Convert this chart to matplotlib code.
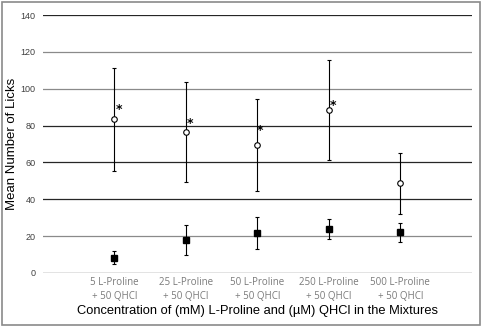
import matplotlib.pyplot as plt
from matplotlib.patches import Rectangle

# values
labels = ["5 L-Proline\n+ 50 QHCl", "25 L-Proline\n+ 50 QHCl", "50 L-Proline\n+ 50 QHCl",
          "250 L-Proline\n+ 50 QHCl", "500 L-Proline\n+ 50 QHCl"]
mixture_mean = [83.5, 76.5, 69.4, 88.5, 48.6]
mixture_err = [28.0, 27.0, 25.0, 27.0, 16.8]
water_mean = [8.3, 18.0, 21.7, 24.0, 22.0]
water_err = [3.6, 8.2, 8.7, 5.5, 5.2]
star_y = [89.0, 81.0, 77.5, 91.0]
star_dx = [0.06, 0.06, 0.03, 0.06]

x = list(range(1, len(labels) + 1))

fig = plt.figure(figsize=(4.83, 3.28), dpi=100)
ax = fig.add_axes([0.089, 0.1677, 0.888, 0.7863])

grid_col = ["#262626", "#8a8a8a", "#262626", "#262626", "#262626", "#8a8a8a", "#8a8a8a", "#262626"]
for v, c in zip(range(0, 141, 20), grid_col):
    ax.axhline(v, color=c, lw=0.9, zorder=0)

ax.errorbar(x, mixture_mean, yerr=mixture_err, fmt="o", ms=4, mfc="white", mec="black",
            mew=0.8, ecolor="black", elinewidth=0.8, capsize=1.5, capthick=0.8, zorder=3)
ax.errorbar(x, water_mean, yerr=water_err, fmt="s", ms=4.2, mfc="black", mec="black",
            ecolor="black", elinewidth=0.8, capsize=1.5, capthick=0.8, zorder=3)

for xi, yi, dx in zip(x, star_y, star_dx):
    ax.text(xi + dx, yi, "*", fontsize=9, fontweight="bold", ha="center", va="center",
            family="DejaVu Sans")

ax.set_xlim(0, 6)
ax.set_ylim(0, 140)
ax.set_yticks(range(0, 141, 20))
ax.set_xticks(x)
ax.set_xticklabels(labels, fontsize=7, color="#7a7a7a", family="Open Sans", linespacing=1.35)
ax.tick_params(axis="both", length=0)
ax.tick_params(axis="y", labelsize=6.5, labelcolor="#404040", pad=5.5)
ax.tick_params(axis="x", pad=3)
for lab in ax.get_yticklabels():
    lab.set_family("Liberation Sans")
for s in ax.spines.values():
    s.set_visible(False)

ax.set_ylabel("Mean Number of Licks", fontsize=9.5, family="Liberation Sans")
ax.yaxis.set_label_coords(-0.058, 0.5)
ax.set_xlabel("Concentration of (mM) L-Proline and (\u00b5M) QHCl in the Mixtures",
              fontsize=9.3, family="Liberation Sans", labelpad=2)

fig.patches.append(Rectangle((0.004, 0.008), 0.99, 0.985, transform=fig.transFigure,
                             fill=False, edgecolor="#8a8a8a", lw=1.2))

fig.savefig("out.png", dpi=100)
